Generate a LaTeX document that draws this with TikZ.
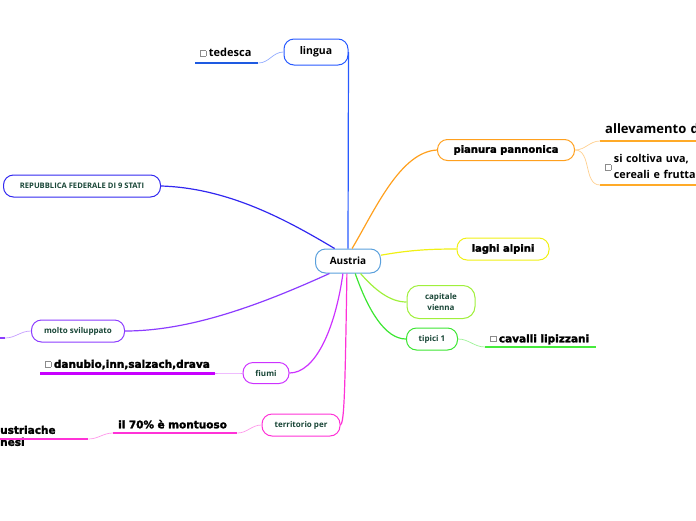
\documentclass[tikz,border=0pt]{standalone}
\usepackage{fontspec}
\setmainfont{Open Sans}
\newfontfamily\heavyfont{DejaVu Sans}[BoldFeatures={FakeBold=2.2}]
\usepackage{tikz}
\usetikzlibrary{positioning}
\usepackage{xcolor}
\definecolor{cCentre}{RGB}{90,160,220}
\definecolor{cLingua}{RGB}{40,90,255}
\definecolor{cRep}{RGB}{50,40,240}
\definecolor{cPianura}{RGB}{255,160,30}
\definecolor{cLaghi}{RGB}{240,240,20}
\definecolor{cCapitale}{RGB}{160,240,60}
\definecolor{cTipici}{RGB}{60,230,50}
\definecolor{cMolto}{RGB}{140,60,255}
\definecolor{cFiumi}{RGB}{205,50,255}
\definecolor{cTerr}{RGB}{255,50,215}
\definecolor{cLabel}{RGB}{25,70,55}
\definecolor{cTedLine}{RGB}{30,90,225}
\definecolor{cPianLine}{RGB}{255,170,40}
\definecolor{cCavLine}{RGB}{70,235,60}
\definecolor{cDanLine}{RGB}{200,0,255}
\definecolor{cCheck}{RGB}{140,140,140}
\newcommand{\chkbox}{{\setlength{\fboxsep}{0pt}\setlength{\fboxrule}{0.6pt}%
  \raisebox{1pt}{\fcolorbox{cCheck}{white}{\phantom{\rule{5pt}{5pt}}}}\hspace{2.5pt}}}
\tikzset{
  topicnode/.style={rectangle, rounded corners=10pt, draw, line width=1pt,
                    fill=white, align=center, inner sep=2pt},
  labelnode/.style={topicnode, text=cLabel, font=\bfseries\fontsize{8}{11}\selectfont},
  heavynode/.style={topicnode, font=\heavyfont\bfseries\fontsize{10}{12}\selectfont},
  leafnode/.style={anchor=south west, align=left, inner xsep=5pt, inner ysep=5pt,
                   text depth=0pt},
  heavyleaf/.style={leafnode, font=\heavyfont\bfseries\fontsize{10.5}{12}\selectfont},
  branch/.style={line width=1.2pt},
  twig/.style={line width=0.7pt},
  leafline/.style={line width=2pt}
}
\begin{document}
\begin{tikzpicture}[x=1pt, y=-1pt]
  \useasboundingbox (0,0) rectangle (696,520);
  \clip (0,0) rectangle (696,520);

  \node[topicnode, draw=cCentre, minimum width=65pt, minimum height=24pt,
        font=\bfseries\fontsize{10}{12}\selectfont] (austria) at (348,261) {Austria};
  \node[topicnode, draw=cLingua, minimum width=64pt, minimum height=26pt,
        font=\bfseries\fontsize{10.5}{12}\selectfont] (lingua) at (316,52) {lingua};
  \node[labelnode, draw=cRep, minimum width=157pt, minimum height=22pt,
        font=\bfseries\fontsize{7.6}{9}\selectfont] (rep) at (82,186)
      {REPUBBLICA FEDERALE DI 9 STATI};
  \node[heavynode, draw=cPianura, minimum width=137pt, minimum height=21pt]
      (pianura) at (506,150) {pianura pannonica};
  \node[heavynode, draw=cLaghi, minimum width=92pt, minimum height=22pt]
      (laghi) at (503,249) {laghi alpini};
  \node[labelnode, draw=cCapitale, minimum width=68pt, minimum height=33pt,
        rounded corners=12pt] (capitale) at (441,302) {capitale\\vienna};
  \node[labelnode, draw=cTipici, minimum width=51pt, minimum height=22pt]
      (tipici) at (432,339) {tipici 1};
  \node[labelnode, draw=cMolto, minimum width=93pt, minimum height=22pt]
      (molto) at (78,331) {molto sviluppato};
  \node[labelnode, draw=cFiumi, minimum width=46pt, minimum height=21pt]
      (fiumi) at (266,373) {fiumi};
  \node[labelnode, draw=cTerr, minimum width=78pt, minimum height=22pt]
      (terr) at (301,425) {territorio per};

  % leaves with underline
  \node[leafnode, text width=53pt, inner ysep=6pt,
        font=\bfseries\fontsize{11}{13}\selectfont] (ted) at (195,63) {\chkbox tedesca};
  \node[leafnode, text width=100pt, inner ysep=7pt,
        font=\bfseries\fontsize{13}{15}\selectfont] (allev) at (600,141) {allevamento d};
  \node[leafnode, text width=100pt, inner ysep=6pt,
        font=\bfseries\fontsize{10.8}{16}\selectfont] (colt) at (600,185)
      {\raisebox{8pt}{\chkbox}\begin{tabular}[b]{@{}l@{}}si coltiva uva,\\cereali e frutta\end{tabular}};
  \node[heavyleaf, text width=101pt, inner ysep=4.5pt] (cav) at (485,347) {\chkbox cavalli lipizzani};
  \node[heavyleaf, text width=165pt] (danu) at (40,373) {\chkbox danubio,inn,salzach,drava};
  \node[heavyleaf, text width=114pt, inner ysep=4.5pt] (mont) at (113,433) {il 70\% è montuoso};
  \node[heavyleaf, text width=88pt, inner xsep=0pt] (paesi) at (0,439) {ustriache\\nesi};
  \coordinate (mleafstart) at (-2,338);
  \coordinate (mleaf) at (5,338);

  \foreach \leaf/\col/\w in {ted/cTedLine/1.2pt, allev/cPianLine/2pt, colt/cPianLine/2pt,
                             cav/cCavLine/2.5pt, danu/cDanLine/3pt, mont/cTerr/2.5pt,
                             paesi/cTerr/2pt}
    \draw[line width=\w, draw=\col] (\leaf.south west) -- (\leaf.south east);
  \draw[leafline, draw=cMolto] (mleafstart) -- (mleaf);

  % main branches
  \draw[branch, cLingua] (austria.north) -- (lingua.east);
  \draw[branch, cRep] (rep.east) .. controls (230,188) and (290,222) .. (austria.137);
  \draw[branch, cPianura] (austria.72) .. controls (375,210) and (400,152) .. (pianura.west);
  \draw[branch, cLaghi] (austria.10) .. controls (410,250) and (430,249) .. (laghi.west);
  \draw[branch, cCapitale] (austria.-45) .. controls (375,290) and (390,302) .. (capitale.west);
  \draw[branch, cTipici] (austria.-60) .. controls (368,310) and (385,339) .. (tipici.west);
  \draw[branch, cMolto] (austria.-146) .. controls (260,305) and (190,331) .. (molto.east);
  \draw[branch, cFiumi] (austria.-112) .. controls (335,330) and (315,373) .. (fiumi.east);
  \draw[branch, cTerr] (austria.-95) .. controls (345,400) and (344,422) .. (terr.east);

  % twigs to leaves
  \draw[twig, cLingua!50] (ted.south east) to[out=0, in=180] (lingua.west);
  \draw[twig, cPianura!50] (pianura.east) to[out=0, in=180] (allev.south west);
  \draw[twig, cPianura!50] (pianura.east) to[out=0, in=180] (colt.south west);
  \draw[twig, cTipici!50] (tipici.east) to[out=0, in=180] (cav.south west);
  \draw[twig, cFiumi!50] (danu.south east) to[out=0, in=180] (fiumi.west);
  \draw[twig, cTerr!50] (mont.south east) to[out=0, in=180] (terr.west);
  \draw[twig, cTerr!50] (paesi.south east) to[out=0, in=180] (mont.south west);
  \draw[twig, cMolto!50] (molto.west) to[out=180, in=0] (mleaf);
\end{tikzpicture}
\end{document}
